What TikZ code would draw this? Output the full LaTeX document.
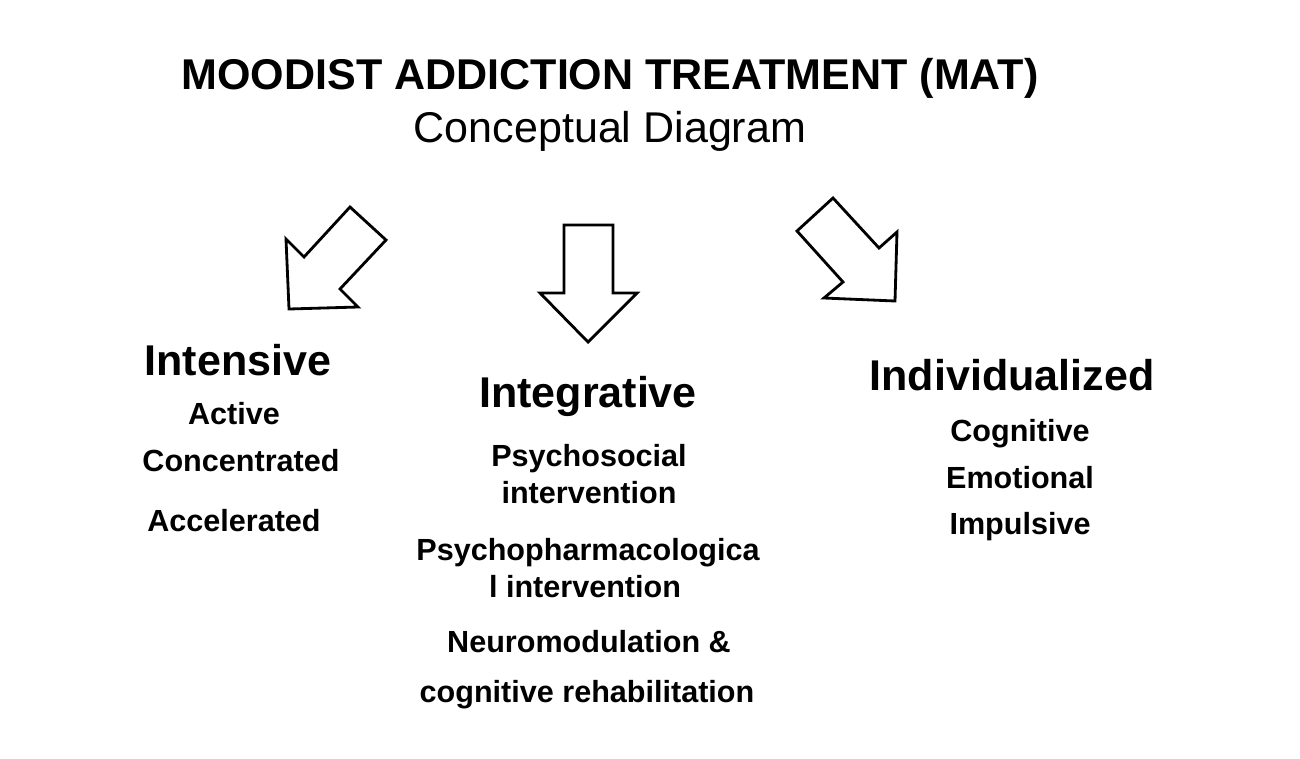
\documentclass[tikz,border=0pt]{standalone}
\usepackage{fontspec}
\setmainfont{Liberation Sans}
\begin{document}
\begin{tikzpicture}[x=0.02cm,y=-0.02cm,
  head/.style={anchor=base,inner sep=0pt,font=\fontsize{24.5}{28}\selectfont\bfseries},
  item/.style={anchor=base,inner sep=0pt,font=\fontsize{17.4}{20}\selectfont\bfseries},
  blockarrow/.style={line width=1.6pt}]
\useasboundingbox (0,0) rectangle (1300,758);
\node[head] (mat) at (610,89) {MOODIST ADDICTION TREATMENT (MAT)};
\node[head,font=\fontsize{24.5}{28}\selectfont] (concept) at (610,142) {Conceptual Diagram};
% block arrows
\draw[blockarrow] (350,207)--(386,240)--(340,289)--(358,307)--(289,309)--(286,239)--(304,257)--cycle;
\draw[blockarrow] (564,225)--(613,225)--(613,293)--(637,293)--(588,342)--(540,293)--(564,293)--cycle;
\draw[blockarrow] (833,198)--(879,248)--(897,232)--(895,301)--(824,298)--(843,282)--(797,231)--cycle;
% intensive
\node[head] (intens) at (238,375) {Intensive};
\node[item] (active) at (234,424) {Active};
\node[item] (concen) at (241,471) {Concentrated};
\node[item] (accel) at (234,531) {Accelerated};
% integrative
\node[head] (integ) at (588,407) {Integrative};
\node[item] (psyso) at (589,466) {Psychosocial};
\node[item] (psyso2) at (589,503) {intervention};
\node[item] (psyph) at (588,560) {Psychopharmacologica};
\node[item] (psyph2) at (585,597) {l intervention};
\node[item] (neuro) at (589,652) {Neuromodulation \&};
\node[item] (cogreh) at (587,702) {cognitive rehabilitation};
% individualized
\node[head] (indiv) at (1012,390) {Individualized};
\node[item] (cogn) at (1020,441) {Cognitive};
\node[item] (emot) at (1020,488) {Emotional};
\node[item] (impul) at (1020,534) {Impulsive};
\end{tikzpicture}
\end{document}
